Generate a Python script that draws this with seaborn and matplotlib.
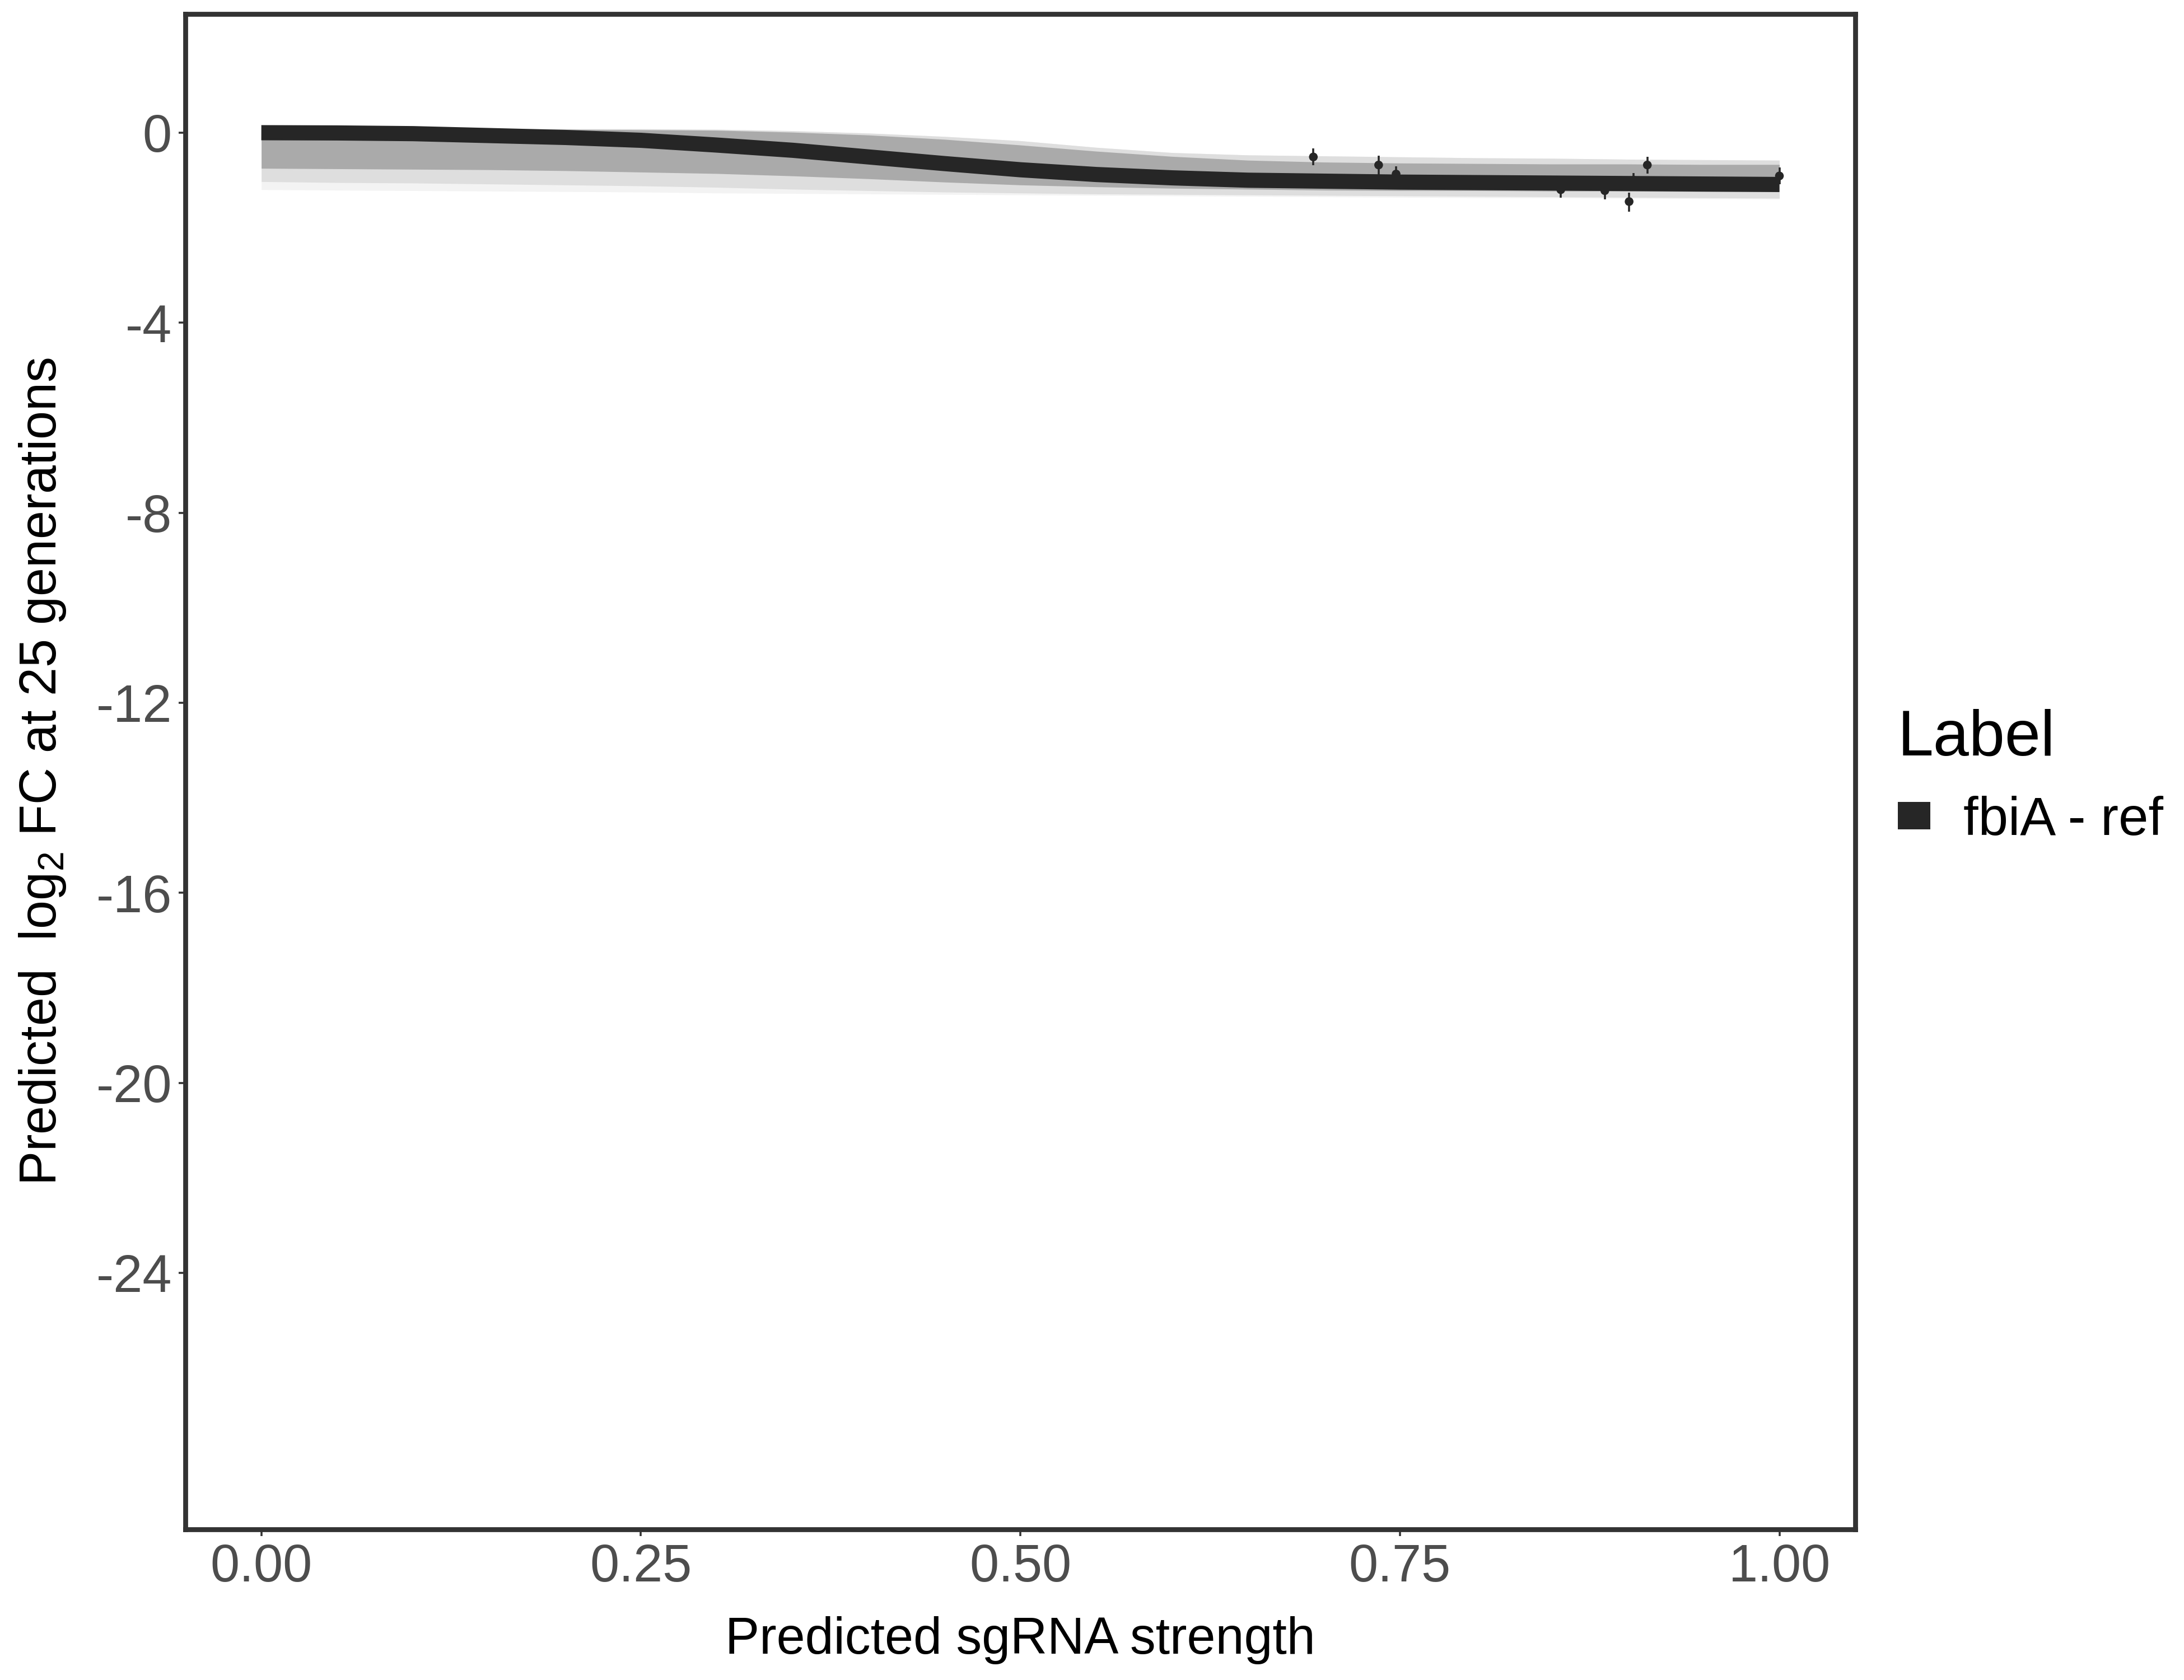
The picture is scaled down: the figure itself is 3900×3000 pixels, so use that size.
import matplotlib
matplotlib.use("Agg")
import matplotlib.pyplot as plt
from matplotlib.patches import Patch
import seaborn as sns
import pandas as pd

# ---- data ----
curve_x = [0.00, 0.05, 0.10, 0.15, 0.20, 0.25, 0.30, 0.35, 0.40, 0.45, 0.50,
           0.55, 0.60, 0.65, 0.70, 0.75, 0.80, 0.85, 0.90, 0.95, 1.00]
curve_y = [0.00, -0.005, -0.02, -0.06, -0.10, -0.16, -0.26, -0.37, -0.51, -0.65, -0.78,
           -0.88, -0.95, -1.00, -1.02, -1.04, -1.05, -1.06, -1.07, -1.08, -1.09]

band_x = curve_x
inner_hi = [0.07, 0.07, 0.07, 0.07, 0.07, 0.06, 0.05, 0.01, -0.05, -0.14, -0.26,
            -0.39, -0.50, -0.58, -0.62, -0.64, -0.65, -0.66, -0.66, -0.67, -0.67]
inner_lo = [-0.75, -0.76, -0.77, -0.78, -0.80, -0.83, -0.86, -0.91, -0.97, -1.04, -1.10,
            -1.14, -1.17, -1.19, -1.21, -1.22, -1.22, -1.23, -1.23, -1.24, -1.24]
mid_hi = [0.08, 0.08, 0.08, 0.08, 0.08, 0.08, 0.07, 0.04, -0.01, -0.08, -0.17,
          -0.31, -0.42, -0.47, -0.49, -0.51, -0.53, -0.54, -0.56, -0.57, -0.58]
mid_lo = [-1.03, -1.05, -1.06, -1.08, -1.10, -1.12, -1.15, -1.19, -1.22, -1.25, -1.27,
          -1.29, -1.30, -1.31, -1.32, -1.33, -1.34, -1.35, -1.36, -1.37, -1.38]
faint_lo = [-1.20, -1.21, -1.22, -1.23, -1.24, -1.25, -1.27, -1.28, -1.29, -1.30, -1.31,
            -1.32, -1.33, -1.34, -1.35, -1.36, -1.37, -1.37, -1.38, -1.39, -1.40]

pt_x = [0.693, 0.736, 0.7475, 0.856, 0.885, 0.901, 0.904, 0.913, 1.000]
pt_y = [-0.51, -0.68, -0.87, -1.20, -1.22, -1.45, -1.00, -0.68, -0.91]
pt_lo = [-0.68, -0.90, -1.05, -1.37, -1.40, -1.66, -1.15, -0.86, -1.09]
pt_hi = [-0.33, -0.48, -0.71, -1.03, -1.05, -1.26, -0.85, -0.51, -0.73]

x_ticks = [0.00, 0.25, 0.50, 0.75, 1.00]
x_tick_labels = ["0.00", "0.25", "0.50", "0.75", "1.00"]
y_ticks = [0, -4, -8, -12, -16, -20, -24]
y_tick_labels = ["0", "-4", "-8", "-12", "-16", "-20", "-24"]

series_label = "fbiA - ref"
legend_title = "Label"
x_title = "Predicted sgRNA strength"
y_title = r"Predicted  log$_2$ FC at 25 generations"

# ---- styling ----
sns.set_theme(style="white")
plt.rcParams["font.family"] = ["Liberation Sans", "DejaVu Sans"]
plt.rcParams["mathtext.fontset"] = "custom"
plt.rcParams["mathtext.rm"] = "Liberation Sans"
plt.rcParams["mathtext.it"] = "Liberation Sans:italic"
plt.rcParams["mathtext.bf"] = "Liberation Sans:bold"
plt.rcParams["text.color"] = "black"

LINE_COLOR = "#262626"
SPINE = "#333333"

fig = plt.figure(figsize=(13, 10), dpi=300)
ax = fig.add_axes([0.0849, 0.0897, 0.7646, 0.902])

curve_df = pd.DataFrame({"x": curve_x, "y": curve_y, "Label": series_label})
pts_df = pd.DataFrame({"x": pt_x, "y": pt_y, "lo": pt_lo, "hi": pt_hi})

# uncertainty ribbons
ax.fill_between(band_x, faint_lo, mid_hi, color="#f3f3f3", lw=0, zorder=1)
ax.fill_between(band_x, mid_lo, mid_hi, color="#dedede", lw=0, zorder=1.1)
ax.fill_between(band_x, inner_lo, inner_hi, color="#aaaaaa", lw=0, zorder=1.2)

# error bars and points
ax.vlines(pts_df["x"], pts_df["lo"], pts_df["hi"], color=LINE_COLOR, lw=0.85, zorder=2)
sns.scatterplot(data=pts_df, x="x", y="y", color=LINE_COLOR, s=14, edgecolor="none",
                ax=ax, zorder=3, legend=False)

# fitted curve
sns.lineplot(data=curve_df, x="x", y="y", color=LINE_COLOR, lw=6.5, ax=ax,
             zorder=4, legend=False, solid_capstyle="butt")

ax.set_xlim(-0.05, 1.05)
ax.set_ylim(-29.4, 2.5)
ax.set_xticks(x_ticks)
ax.set_xticklabels(x_tick_labels)
ax.set_yticks(y_ticks)
ax.set_yticklabels(y_tick_labels)

for s in ax.spines.values():
    s.set_visible(True)
    s.set_color(SPINE)
    s.set_linewidth(2.1)

ax.tick_params(axis="both", which="major", direction="out", length=2.8, width=0.85,
               color=SPINE, labelsize=22.5, labelcolor="#4d4d4d", pad=3,
               bottom=True, left=True)
ax.set_xlabel(x_title, fontsize=22, color="black", labelpad=10)
ax.set_ylabel(y_title, fontsize=22, color="black", labelpad=12)

handles = [Patch(facecolor=LINE_COLOR, edgecolor="none", label=series_label)]
leg = fig.legend(handles=handles, title=legend_title, loc="upper left",
                 bbox_to_anchor=(0.869, 0.578), frameon=False, fontsize=23,
                 title_fontsize=27.6, handlelength=0.6, handleheight=0.41,
                 handletextpad=0.62, borderaxespad=0, borderpad=0, labelspacing=0.5,
                 labelcolor="black")
leg.get_title().set_color("black")
leg._legend_box.align = "left"

fig.savefig("out.png", dpi=300, facecolor="white")
